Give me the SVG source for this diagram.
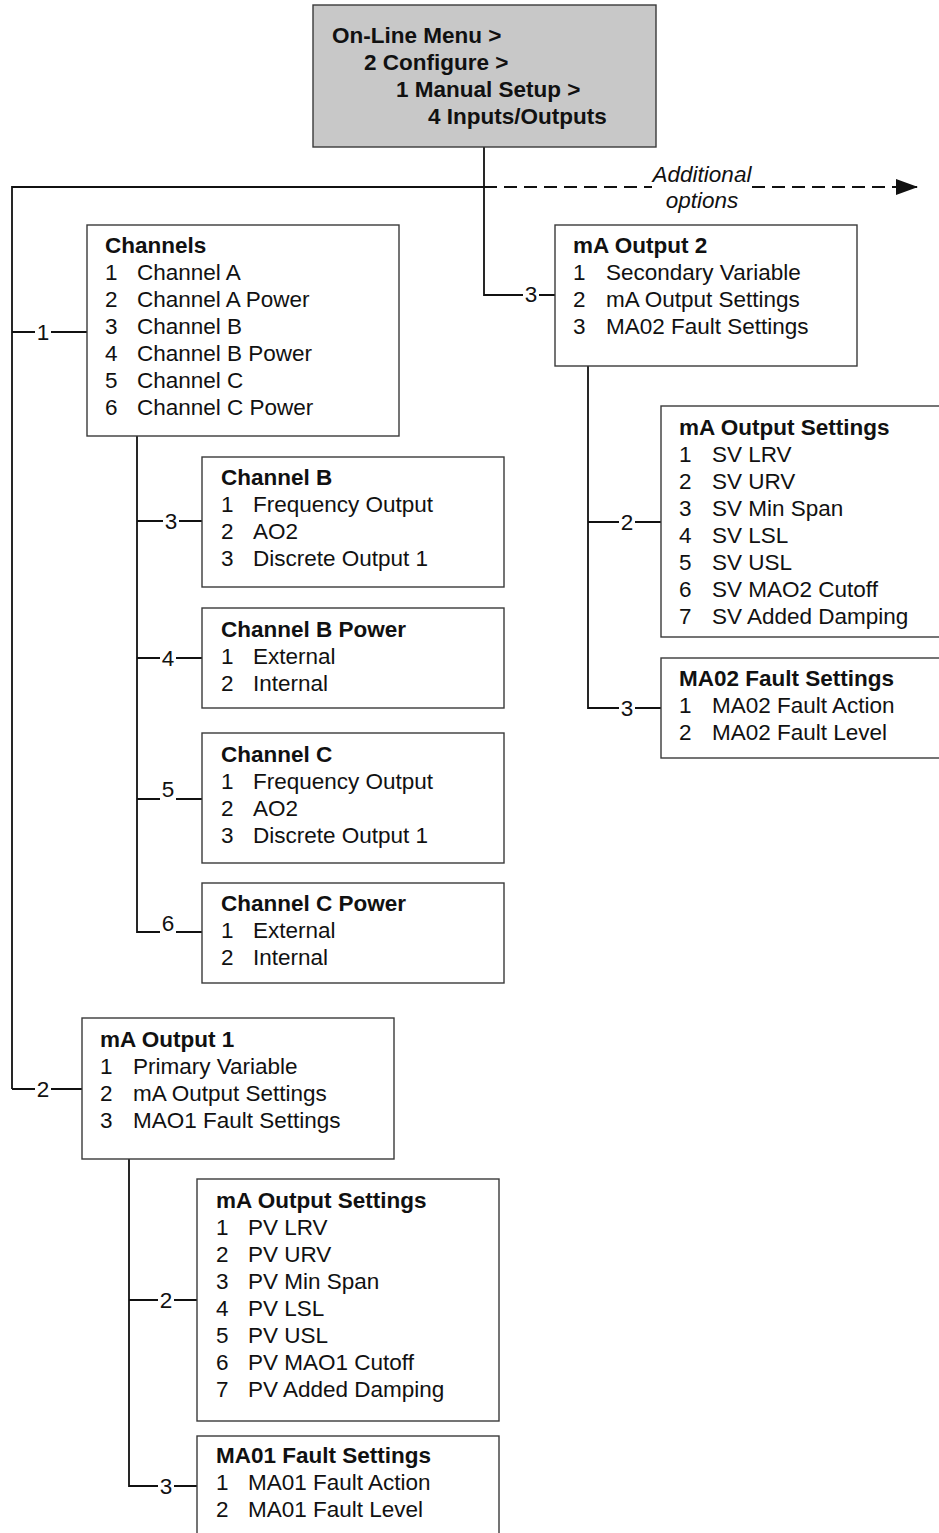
<svg xmlns="http://www.w3.org/2000/svg" width="939" height="1533" viewBox="0 0 939 1533">
<style>
text{font-family:"Liberation Sans",Arial,sans-serif;font-size:22.5px;fill:#111}
.t{font-weight:bold}
.b{fill:#fff;stroke:#3a3a3a;stroke-width:1.4}
.c{fill:none;stroke:#111;stroke-width:1.8}
.d{fill:none;stroke:#111;stroke-width:1.8;stroke-dasharray:13 7}
.l{text-anchor:middle}
.i{font-style:italic;text-anchor:middle}
</style>
<defs>
<marker id="ah" markerWidth="22" markerHeight="16" refX="21" refY="8" orient="auto" markerUnits="userSpaceOnUse">
<path d="M0,0 L22,8 L0,16 Z" fill="#111"/>
</marker>
</defs>
<rect width="939" height="1533" fill="#fff"/>
<g id="connectors">
<path class="c" d="M484,147 V295 H523 M539,295 H555"/>
<path class="c" d="M12,1089 V187 H484"/>
<path class="d" d="M484,187 H652"/>
<path class="d" d="M752,187 H917" marker-end="url(#ah)"/>
<path class="c" d="M12,332 H35 M51,332 H87"/>
<path class="c" d="M12,1089 H35 M51,1089 H82"/>
<path class="c" d="M137,436 V932 H160 M176,932 H202"/>
<path class="c" d="M137,521 H163 M179,521 H202"/>
<path class="c" d="M137,658 H160 M176,658 H202"/>
<path class="c" d="M137,799 H160 M176,799 H202"/>
<path class="c" d="M588,366 V708 H619 M635,708 H661"/>
<path class="c" d="M588,522 H619 M635,522 H661"/>
<path class="c" d="M129,1159 V1486 H158 M174,1486 H197"/>
<path class="c" d="M129,1300 H158 M174,1300 H197"/>
<text class="l" x="43" y="340">1</text>
<text class="l" x="43" y="1097">2</text>
<text class="l" x="531" y="302">3</text>
<text class="l" x="171" y="529">3</text>
<text class="l" x="168" y="666">4</text>
<text class="l" x="168" y="797">5</text>
<text class="l" x="168" y="931">6</text>
<text class="l" x="627" y="530">2</text>
<text class="l" x="627" y="716">3</text>
<text class="l" x="166" y="1308">2</text>
<text class="l" x="166" y="1494">3</text>
<text class="i" x="702" y="182">Additional</text>
<text class="i" x="702" y="208">options</text>
</g>
<g id="root">
<rect x="313" y="5" width="343" height="142" fill="#c8c8c8" stroke="#3a3a3a" stroke-width="1.4"/>
<text class="t" x="332" y="43">On-Line Menu &gt;</text>
<text class="t" x="364" y="70">2 Configure &gt;</text>
<text class="t" x="396" y="97">1 Manual Setup &gt;</text>
<text class="t" x="428" y="124">4 Inputs/Outputs</text>
</g>
<g id="channels">
<rect class="b" x="87" y="225" width="312" height="211"/>
<text class="t" x="105" y="253">Channels</text>
<text x="105" y="280">1</text><text x="137" y="280">Channel A</text>
<text x="105" y="307">2</text><text x="137" y="307">Channel A Power</text>
<text x="105" y="334">3</text><text x="137" y="334">Channel B</text>
<text x="105" y="361">4</text><text x="137" y="361">Channel B Power</text>
<text x="105" y="388">5</text><text x="137" y="388">Channel C</text>
<text x="105" y="415">6</text><text x="137" y="415">Channel C Power</text>
</g>
<g id="ma-output-2">
<rect class="b" x="555" y="225" width="302" height="141"/>
<text class="t" x="573" y="253">mA Output 2</text>
<text x="573" y="280">1</text><text x="606" y="280">Secondary Variable</text>
<text x="573" y="307">2</text><text x="606" y="307">mA Output Settings</text>
<text x="573" y="334">3</text><text x="606" y="334">MA02 Fault Settings</text>
</g>
<g id="channel-b">
<rect class="b" x="202" y="457" width="302" height="130"/>
<text class="t" x="221" y="485">Channel B</text>
<text x="221" y="512">1</text><text x="253" y="512">Frequency Output</text>
<text x="221" y="539">2</text><text x="253" y="539">AO2</text>
<text x="221" y="566">3</text><text x="253" y="566">Discrete Output 1</text>
</g>
<g id="channel-b-power">
<rect class="b" x="202" y="608" width="302" height="100"/>
<text class="t" x="221" y="637">Channel B Power</text>
<text x="221" y="664">1</text><text x="253" y="664">External</text>
<text x="221" y="691">2</text><text x="253" y="691">Internal</text>
</g>
<g id="channel-c">
<rect class="b" x="202" y="733" width="302" height="130"/>
<text class="t" x="221" y="762">Channel C</text>
<text x="221" y="789">1</text><text x="253" y="789">Frequency Output</text>
<text x="221" y="816">2</text><text x="253" y="816">AO2</text>
<text x="221" y="843">3</text><text x="253" y="843">Discrete Output 1</text>
</g>
<g id="channel-c-power">
<rect class="b" x="202" y="883" width="302" height="100"/>
<text class="t" x="221" y="911">Channel C Power</text>
<text x="221" y="938">1</text><text x="253" y="938">External</text>
<text x="221" y="965">2</text><text x="253" y="965">Internal</text>
</g>
<g id="sv-output-settings">
<rect class="b" x="661" y="406" width="282" height="231"/>
<text class="t" x="679" y="435">mA Output Settings</text>
<text x="679" y="462">1</text><text x="712" y="462">SV LRV</text>
<text x="679" y="489">2</text><text x="712" y="489">SV URV</text>
<text x="679" y="516">3</text><text x="712" y="516">SV Min Span</text>
<text x="679" y="543">4</text><text x="712" y="543">SV LSL</text>
<text x="679" y="570">5</text><text x="712" y="570">SV USL</text>
<text x="679" y="597">6</text><text x="712" y="597">SV MAO2 Cutoff</text>
<text x="679" y="624">7</text><text x="712" y="624">SV Added Damping</text>
</g>
<g id="ma02-fault-settings">
<rect class="b" x="661" y="658" width="282" height="100"/>
<text class="t" x="679" y="686">MA02 Fault Settings</text>
<text x="679" y="713">1</text><text x="712" y="713">MA02 Fault Action</text>
<text x="679" y="740">2</text><text x="712" y="740">MA02 Fault Level</text>
</g>
<g id="ma-output-1">
<rect class="b" x="82" y="1018" width="312" height="141"/>
<text class="t" x="100" y="1047">mA Output 1</text>
<text x="100" y="1074">1</text><text x="133" y="1074">Primary Variable</text>
<text x="100" y="1101">2</text><text x="133" y="1101">mA Output Settings</text>
<text x="100" y="1128">3</text><text x="133" y="1128">MAO1 Fault Settings</text>
</g>
<g id="pv-output-settings">
<rect class="b" x="197" y="1179" width="302" height="242"/>
<text class="t" x="216" y="1208">mA Output Settings</text>
<text x="216" y="1235">1</text><text x="248" y="1235">PV LRV</text>
<text x="216" y="1262">2</text><text x="248" y="1262">PV URV</text>
<text x="216" y="1289">3</text><text x="248" y="1289">PV Min Span</text>
<text x="216" y="1316">4</text><text x="248" y="1316">PV LSL</text>
<text x="216" y="1343">5</text><text x="248" y="1343">PV USL</text>
<text x="216" y="1370">6</text><text x="248" y="1370">PV MAO1 Cutoff</text>
<text x="216" y="1397">7</text><text x="248" y="1397">PV Added Damping</text>
</g>
<g id="ma01-fault-settings">
<rect class="b" x="197" y="1436" width="302" height="100"/>
<text class="t" x="216" y="1463">MA01 Fault Settings</text>
<text x="216" y="1490">1</text><text x="248" y="1490">MA01 Fault Action</text>
<text x="216" y="1517">2</text><text x="248" y="1517">MA01 Fault Level</text>
</g>
</svg>
